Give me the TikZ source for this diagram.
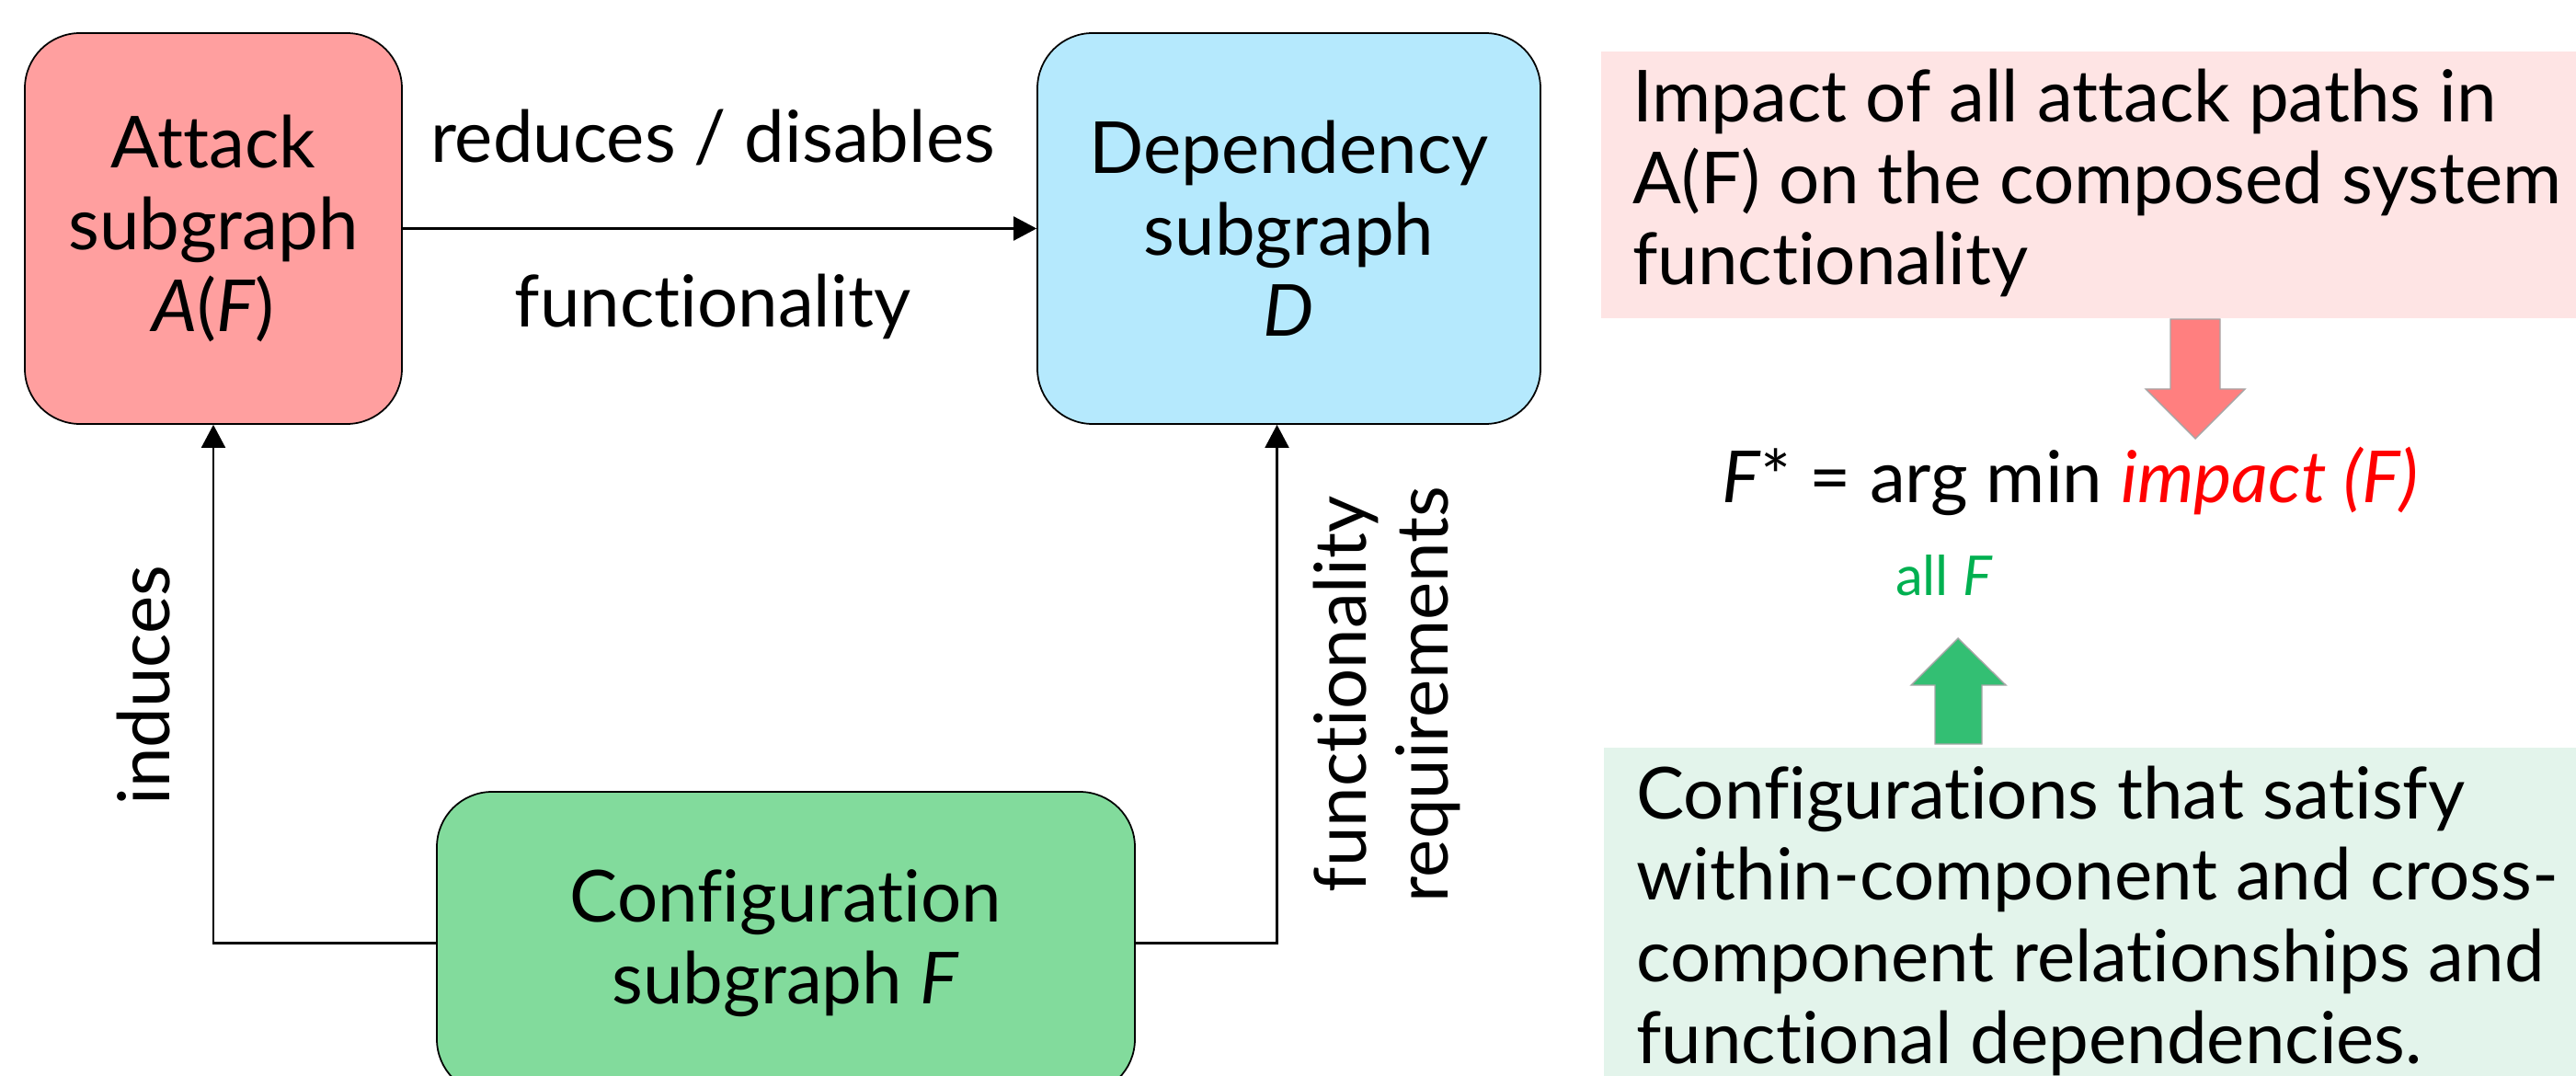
\documentclass[tikz,border=0pt]{standalone}
\usepackage{fontspec}
\setmainfont{Lato}[Ligatures=NoCommon]
\usetikzlibrary{arrows.meta}

\definecolor{attackfill}{RGB}{255,159,159}
\definecolor{depfill}{RGB}{181,233,253}
\definecolor{configfill}{RGB}{130,219,156}
\definecolor{pinkbg}{RGB}{254,228,228}
\definecolor{greenbg}{RGB}{227,244,235}
\definecolor{arrred}{RGB}{255,127,127}
\definecolor{arrgreen}{RGB}{51,191,115}
\definecolor{impred}{RGB}{255,0,0}
\definecolor{allgreen}{RGB}{0,176,80}

\tikzset{
  subgraph/.style={draw, line width=0.5pt, rounded corners=0.6cm, align=center, inner sep=0pt},
  arr/.style={line width=0.6pt, -{Triangle[length=0.25cm,width=0.26cm]}},
  blockarr/.style={draw=black!35, line width=0.4pt},
}

\begin{document}
\begin{tikzpicture}[font=\fontsize{22.2}{25.2}\selectfont]
            \clip (0,0) rectangle (28.01,-11.70);
            %riquadri
            \node[subgraph, fill=attackfill, minimum width=4.10cm, minimum height=4.25cm] (attack) at (2.32,-2.485) {Attack\\subgraph\\\textit{A}(\textit{F})};
            \node[subgraph, fill=depfill, minimum width=5.47cm, minimum height=4.25cm] (dep) at (14.015,-2.485) {Dependency\\subgraph\\\textit{D}};
            \node[subgraph, fill=configfill, minimum width=7.59cm, minimum height=3.29cm] (config) at (8.545,-10.255) {Configuration\\subgraph \textit{F}};
            %frecce
            \draw[arr] (attack.east) -- (dep.west);
            \draw[arr] (config.west) -| (attack.south);
            \draw[arr] (config.east) -| ([xshift=-0.13cm]dep.south);
            %etichette
            \node[anchor=base] (reduces) at (7.75,-1.77) {reduces / disables};
            \node[anchor=base] (func) at (7.75,-3.56) {functionality};
            \node[rotate=90, anchor=base] (induces) at (1.84,-7.45) {induces};
            \node[rotate=90, align=center] (funcreq) at (15.08,-7.55) {functionality\\requirements};
            %obiettivo
            \fill[pinkbg] (17.41,-0.56) rectangle (28.01,-3.46);
            \node[anchor=base west, align=left] (impacttxt) at (17.63,-3.10) {Impact of all attack paths in\\A(F) on the composed system\\functionality};
            \draw[blockarr, fill=arrred] (23.60,-3.47) -- (24.14,-3.47) -- (24.14,-4.23) -- (24.41,-4.23) -- (23.87,-4.77) -- (23.33,-4.23) -- (23.60,-4.23) -- cycle;
            \node[anchor=base] (formula) at (22.51,-5.46) {\textit{F}* = arg min \textcolor{impred}{\textit{impact (F)}}};
            \node[anchor=base, font=\fontsize{17}{20}\selectfont, text=allgreen] (allf) at (21.14,-6.47) {all \textit{F}};
            %vincoli
            \draw[blockarr, fill=arrgreen] (21.04,-8.09) -- (21.55,-8.09) -- (21.55,-7.45) -- (21.81,-7.45) -- (21.29,-6.94) -- (20.78,-7.45) -- (21.04,-7.45) -- cycle;
            \fill[greenbg] (17.44,-8.13) rectangle (28.01,-11.70);
            \node[anchor=base west, align=left] (configtxt) at (17.67,-11.56) {Configurations that satisfy\\within-component and cross-\\component relationships and\\functional dependencies.};
\end{tikzpicture}
\end{document}
